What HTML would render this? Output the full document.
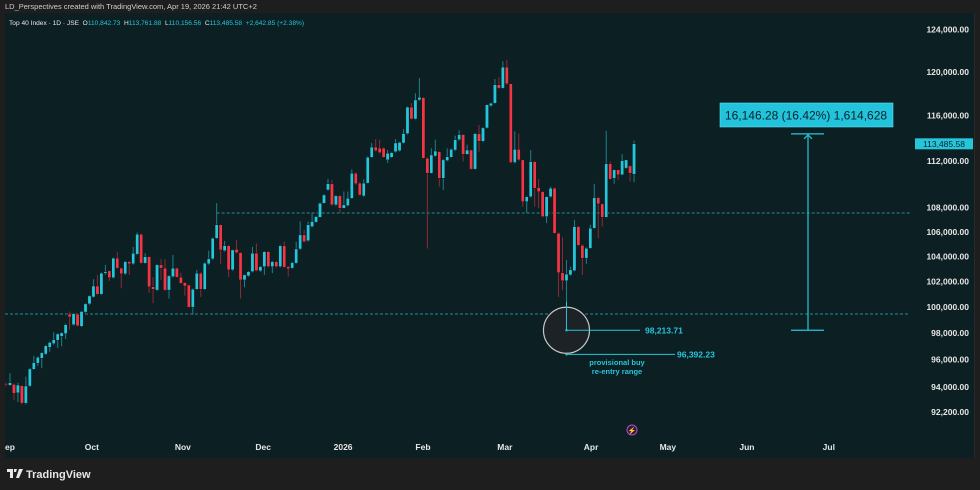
<!DOCTYPE html>
<html><head><meta charset="utf-8"><style>
body{margin:0;background:#1e1e1e;width:980px;height:490px;overflow:hidden;font-family:"Liberation Sans",sans-serif}
svg{display:block}
</style></head><body>
<svg id="c" width="980" height="490"></svg>
<script>
const ohlc=[[94180,94300,94010,94110],[94110,95000,94060,94300],[94180,94240,93020,93520],[93560,94300,92900,94130],[94080,94130,92720,92820],[92820,94740,92720,94060],[94060,95390,93980,95310],[95290,96280,95240,95780],[95740,96240,95540,96180],[96110,96570,95370,96520],
[96420,97120,96350,97040],[96920,97340,96590,97290],[97200,98060,97120,97500],[97450,98000,96870,97930],[97750,98070,96990,98010],[97960,98720,97550,98640],[99450,99650,98260,99230],[98640,99550,98560,99480],[99450,99510,98490,98560],[98510,99700,98450,99650],
[99610,100310,99550,100240],[100240,100920,100160,100860],[100780,102180,100720,101640],[101640,102520,100920,101000],[101000,102720,100920,102660],[102660,103320,102520,102780],[102840,102880,102040,102300],[102300,103920,102240,103860],[103860,104340,103000,103060],[103060,103120,101460,102600],
[102600,103640,102520,103580],[103580,103640,102520,103400],[103400,104770,103320,104260],[104180,105940,104120,105800],[105800,105870,103400,103460],[103460,104260,103400,103980],[103980,104040,101100,101580],[101580,102340,100290,101380],[101320,103400,101240,103320],[103320,103780,102120,103060],
[103060,103780,101240,101320],[101320,102520,100660,102440],[102380,104120,102320,103060],[103060,103120,102280,102340],[102340,102700,101800,101860],[101900,101960,100880,101640],[101720,101760,99930,99990],[99990,101440,99400,101380],[101380,102920,101320,102660],[102660,102720,100780,101380],
[101380,103520,101320,103460],[103400,104460,103320,103800],[103800,105540,103720,105470],[105470,108380,105410,106580],[106580,106620,103400,104520],[104460,105250,104400,104870],[104870,104940,102340,102920],[102920,104560,102840,104520],[104580,105330,104240,104300],[104300,104360,100660,102120],
[102120,102560,101540,102520],[102440,102840,102360,102780],[102780,104770,102720,104260],[104260,105050,102800,102860],[102840,103240,102760,103180],[103180,104440,102520,104380],[104380,104440,103120,103180],[103180,103640,102660,103580],[103580,103640,103120,103180],[103180,104940,103120,104870],
[104870,105200,103080,103140],[103180,103240,102380,103000],[103060,103560,103000,103500],[103460,105200,103400,104600],[104600,106850,104520,105750],[105750,106160,105130,105190],[105270,106850,105210,106580],[106430,107600,106370,106850],[106800,107320,106740,107260],[107210,108440,107160,108380],
[108380,109160,108320,109070],[109500,110430,109420,110020],[110020,110360,108150,108240],[108240,109070,108150,109000],[109000,109070,107550,107960],[107960,109370,107900,108240],[108180,109370,108110,108790],[108790,111270,108730,110930],[110930,111000,109930,110020],[110080,110190,108990,109070],
[108990,110420,108900,110080],[110080,112380,110020,112310],[112310,113560,112250,113200],[113200,113910,112810,112880],[113110,113850,112640,112710],[113110,113180,112250,112310],[112080,112940,111800,112660],[112310,112770,112250,112710],[112790,113910,112720,113560],[112880,113670,112810,113610],
[113560,114800,113500,114390],[114390,116830,114300,116760],[116760,117120,115630,115690],[115690,118020,115630,117410],[117410,119420,117320,117650],[117620,117680,112170,112230],[112230,112300,104640,110930],[110930,113090,110880,112510],[112420,113850,112340,112850],[112790,112850,109780,110500],
[110500,112170,109500,112080],[112020,113090,111950,112360],[112310,113070,112250,113000],[112940,114210,112850,113850],[113850,114680,113760,114300],[114300,114340,111940,112570],[112570,113410,112510,112940],[112940,112980,111220,111280],[111280,114430,111220,114390],[114390,115160,112790,113710],
[113710,114960,113630,114890],[114890,117010,114830,116970],[116880,117170,116790,117120],[117120,119330,117050,118800],[118800,119510,118420,118490],[118490,120960,118420,120440],[120440,121120,118800,118890],[118890,118930,111780,111850],[111850,114590,111780,113000],[113000,114390,112000,112080],
[112080,112120,108090,108510],[108510,108990,107550,108920],[108920,112940,108850,111930],[111930,111990,108090,109650],[109700,110420,107960,109350],[109350,109410,107200,107260],[107260,108990,106720,108920],[108920,109780,108850,109650],[109650,109720,105830,105890],[105890,105950,100780,102700],
[102700,105550,101320,102060],[102060,103720,98214,102580],[102520,103180,102440,102920],[102860,106990,102800,106430],[106430,106490,104820,104900],[104900,104940,102520,103860],[103860,104730,103400,104660],[104660,106580,104600,106300],[106300,110020,106240,108850],[108850,108910,105470,108320],
[108320,108360,106430,107210],[107210,114650,107160,111740],[111740,111930,110360,110420],[110500,111260,110020,111220],[111220,111260,110360,110790],[110790,112600,110750,112020],[111370,112120,111310,112080],[111560,111610,110210,110930],[110843,113762,110157,113486]];
const yTicks=[124000,120000,116000,112000,108000,106000,104000,102000,100000,98000,96000,94000,92200];
const monthLabels=["ep","Oct","Nov","Dec","2026","Feb","Mar","Apr","May","Jun","Jul"];
const monthIdx=[1,21.6,44.5,64.7,84.8,104.9,125.5,147.2,166.5,186.4,207];
const levels=[107560,99460];
const levelStart=[53,-2];
const lastPrice=113485.58;
const buyLow=98213.71, buyAlt=96392.23;
const measureFrom=98213.71, measureTo=114359.99;

const NS="http://www.w3.org/2000/svg", svg=document.getElementById('c');
const Y=p=>307-1290*Math.log(p/100000);
const X=i=>6+i*3.975;
function el(t,a,p){const e=document.createElementNS(NS,t);for(const k in a)e.setAttribute(k,a[k]);(p||svg).appendChild(e);return e;}
function tx(s,a,p){const e=el('text',a,p);e.textContent=s;return e;}

let r=el('rect',{x:5,y:13,width:969,height:445,fill:'#0c1f23'});

tx('LD_Perspectives created with TradingView.com, Apr 19, 2026 21:42 UTC+2',{x:5,y:9,fill:'#cfcfcf','font-size':7.5});
let lg=tx('',{x:9,y:25,'font-size':6.6,fill:'#e8e8e8'});

const lgSeg=[['Top 40 Index · 1D · JSE  ','#e8e8e8'],['O','#e8e8e8'],['110,842.73  ','#26c6da'],['H','#e8e8e8'],['113,761.88  ','#26c6da'],['L','#e8e8e8'],['110,156.56  ','#26c6da'],['C','#e8e8e8'],['113,485.58  +2,642.85 (+2.38%)','#26c6da']];
lgSeg.forEach(s=>{const t=el('tspan',{fill:s[1]},lg);t.textContent=s[0];});
lg.setAttribute('xml:space','preserve');lg.style.whiteSpace='pre';

levels.forEach((v,k)=>{let l=el('line',{x1:levelStart[k]<0?5:X(levelStart[k]),x2:910,y1:Y(v),y2:Y(v),stroke:'#2a8a98','stroke-dasharray':'3,2','stroke-width':1});
});

const cg=el('g',{});
ohlc.forEach((d,i)=>{const up=d[3]>=d[0],x=X(i);
 const l=el('line',{x1:x,x2:x,y1:Y(d[1]),y2:Y(d[2]),stroke:up?'#1f7f8c':'#8e2a34','stroke-width':1},cg);
 const t=Y(Math.max(d[0],d[3])),b=Y(Math.min(d[0],d[3]));
 const bd=el('rect',{x:x-1.6,y:t,width:3.2,height:Math.max(1,b-t),fill:up?'#26c6da':'#f23645',stroke:'#061214','stroke-width':0.4},cg);
 
});

const cx=X(141),cy=Y(buyLow);
let ci=el('circle',{cx:cx,cy:cy,r:23,fill:'#1c2225',stroke:'#c8c8c8','stroke-width':1.2});

el('line',{x1:cx,x2:cx,y1:Y(100400),y2:cy,stroke:'#26c6da','stroke-width':1});
el('line',{x1:cx,x2:640,y1:cy,y2:cy,stroke:'#26c6da','stroke-width':1});
el('circle',{cx:cx,cy:cy,r:1.2,fill:'#26c6da'});
tx(buyLow.toLocaleString('en-US',{minimumFractionDigits:2}),{x:645,y:cy+3,fill:'#26c6da','font-size':8.5,'font-weight':'bold'});
const cy2=Y(buyAlt);
el('line',{x1:cx,x2:675,y1:cy2,y2:cy2,stroke:'#26c6da','stroke-width':1});
el('circle',{cx:cx,cy:cy2,r:1.2,fill:'#26c6da'});
tx(buyAlt.toLocaleString('en-US',{minimumFractionDigits:2}),{x:677,y:cy2+3,fill:'#26c6da','font-size':8.5,'font-weight':'bold'});
let nt=el('g',{fill:'#26c6da','font-size':7.5,'font-weight':'bold','text-anchor':'middle'});

tx('provisional buy',{x:617,y:365},nt);tx('re-entry range',{x:617,y:374},nt);

const mx=808,mt=Y(measureTo),mb=Y(measureFrom);
let mg=el('g',{stroke:'#26c6da','stroke-width':1.2,fill:'none'});

el('line',{x1:mx,x2:mx,y1:mt,y2:mb},mg);el('line',{x1:791,x2:824,y1:mt,y2:mt},mg);el('line',{x1:791,x2:824,y1:mb,y2:mb},mg);
el('polyline',{points:`${mx-4},${mt+5} ${mx},${mt+1} ${mx+4},${mt+5}`},mg);
let mbx=el('rect',{x:720,y:103,width:173,height:24,fill:'#22c3dc',stroke:'#5fe0f0','stroke-width':0.6});

tx('16,146.28 (16.42%) 1,614,628',{x:806,y:119.5,fill:'#0b2226','font-size':12,'text-anchor':'middle'});

const ya=el('g',{fill:'#e6e6e6','font-size':8.5,'font-weight':'bold','text-anchor':'end'});

yTicks.forEach(v=>{tx(v.toLocaleString('en-US',{minimumFractionDigits:2}),{x:969,y:Y(v)+3},ya);});
let pl=el('rect',{x:915,y:Y(lastPrice)-5.5,width:58,height:11,fill:'#26c6da'});

tx(lastPrice.toLocaleString('en-US',{minimumFractionDigits:2}),{x:944,y:Y(lastPrice)+3,fill:'#0b2226','font-size':8.5,'text-anchor':'middle'});
el('line',{x1:974.5,x2:974.5,y1:13,y2:458,stroke:'#2a2a2a'});

const xa=el('g',{fill:'#e6e6e6','font-size':8.5,'font-weight':'bold','text-anchor':'middle'});

monthLabels.forEach((m,k)=>{tx(m,{x:X(monthIdx[k]),y:450},xa);});
let ic=el('circle',{cx:632,cy:430,r:5,fill:'#2a1a33',stroke:'#b44cd0','stroke-width':1});

tx('⚡',{x:632,y:433,fill:'#d070f0','font-size':7,'text-anchor':'middle'});

let lo=el('g',{});
el('path',{d:'M7 469h6v9h-3v-6h-3z M14 469h3l-1 3h-2z M19 469h4l-4 9h-3z',fill:'#e8e8e8'},lo);
tx('TradingView',{x:26,y:478,fill:'#e8e8e8','font-size':11,'font-weight':'bold'},lo);
</script>
</body></html>
